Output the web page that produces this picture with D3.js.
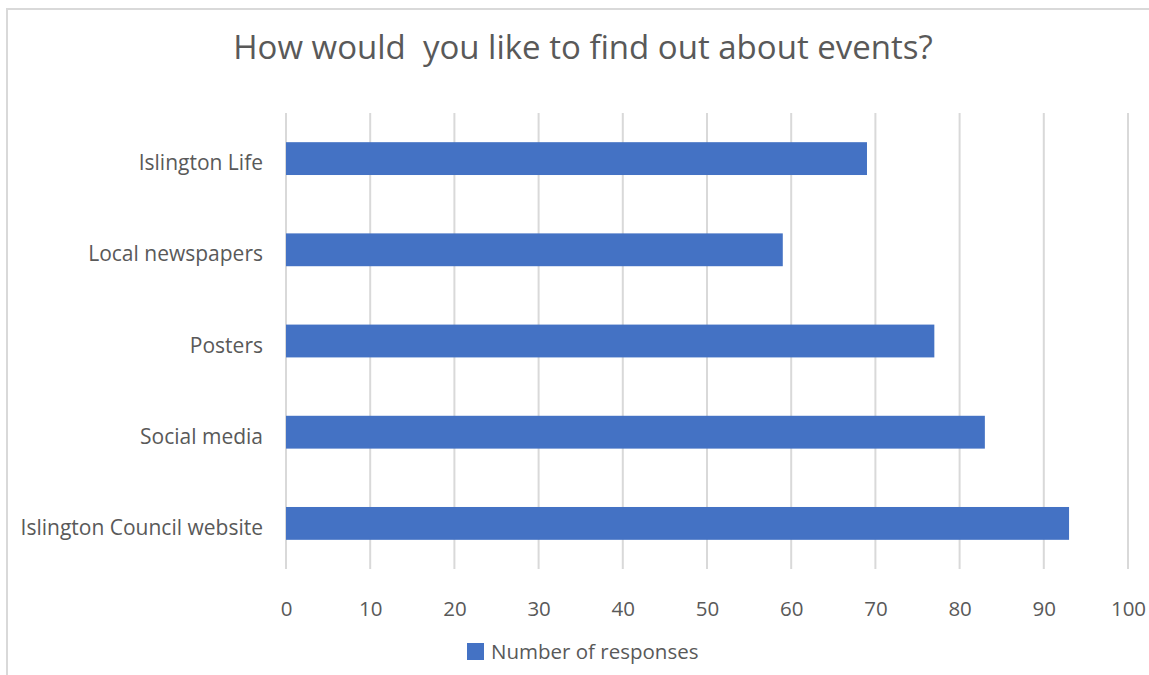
<!DOCTYPE html>
<html><head><meta charset="utf-8">
<script src="https://cdn.jsdelivr.net/npm/d3@7"></script>
<style>
html,body{margin:0;padding:0;background:#fff;}
svg{display:block;font-family:"Open Sans","Segoe UI",sans-serif;}
</style></head>
<body><svg id="chart" width="1149" height="675"></svg>
<script>
const title = "How would  you like to find out about events?";
const categories = ["Islington Life","Local newspapers","Posters","Social media","Islington Council website"];
const values = [69,59,77,83,93];
const seriesName = "Number of responses";
const xTicks = [0,10,20,30,40,50,60,70,80,90,100];

const svg = d3.select("#chart");
const W = 1149, H = 675;
svg.append("rect").attr("x",0).attr("y",0).attr("width",W).attr("height",H).attr("fill","#fff");
// chart border (only left/top visible)
svg.append("rect").attr("x",7).attr("y",9).attr("width",W+10).attr("height",H+10)
  .attr("fill","none").attr("stroke","#d9d9d9").attr("stroke-width",2);

const m = {left:286, right:1128, top:113, bottom:569};
const x = d3.scaleLinear().domain([0,100]).range([m.left,m.right]);
const y = d3.scaleBand().domain(categories).range([m.top,m.bottom]).paddingInner(0.64).paddingOuter(0.32);

// gridlines
svg.append("g").selectAll("line").data(xTicks).join("line")
  .attr("x1",d=>x(d)).attr("x2",d=>x(d)).attr("y1",m.top).attr("y2",m.bottom)
  .attr("stroke","#d9d9d9").attr("stroke-width",2);

// bars
svg.append("g").selectAll("rect").data(values).join("rect")
  .attr("x",x(0)).attr("y",(d,i)=>y(categories[i]))
  .attr("width",d=>x(d)-x(0)).attr("height",y.bandwidth())
  .attr("fill","#4472c4");

// x axis labels
const xa = d3.axisBottom(x).tickValues(xTicks).tickSize(0).tickPadding(0);
const gx = svg.append("g").attr("transform",`translate(0,${m.bottom+47})`).call(xa);
gx.select(".domain").remove();
gx.selectAll("text").attr("fill","#595959").attr("font-size",20.5).attr("font-family","'Open Sans',sans-serif").attr("dy","0");

// y axis labels
const ya = d3.axisLeft(y).tickSize(0).tickPadding(23);
const gy = svg.append("g").attr("transform",`translate(${m.left},0)`).call(ya);
gy.select(".domain").remove();
gy.selectAll("text").attr("fill","#595959").attr("font-size",21).attr("font-family","'Open Sans',sans-serif").attr("dy","0.55em");

// title
svg.append("text").attr("x",583).attr("y",59).attr("text-anchor","middle")
  .attr("fill","#595959").attr("font-size",33).style("white-space","pre").text(title);

// legend
svg.append("rect").attr("x",467).attr("y",643).attr("width",17).attr("height",17).attr("fill","#4472c4");
svg.append("text").attr("x",491).attr("y",659).attr("fill","#595959").attr("font-size",20.5).text(seriesName);
</script></body></html>
